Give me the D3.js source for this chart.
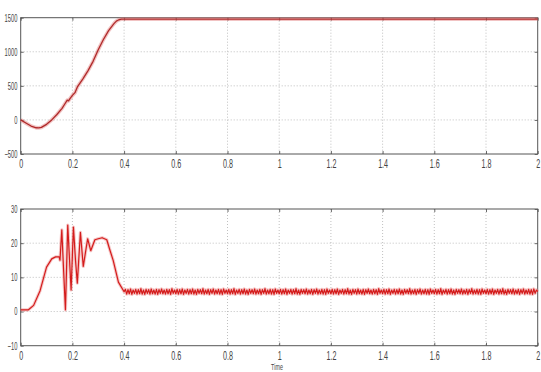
<!DOCTYPE html>
<html><head><meta charset="utf-8">
<script src="https://cdn.jsdelivr.net/npm/d3@7"></script>
<style>
html,body{margin:0;padding:0;background:#fff;}
svg{display:block;}
text{font-family:"Liberation Sans",Arial,sans-serif;fill:#444;}
</style></head>
<body><svg id="c" width="541" height="372"></svg>
<script>
// ---- data ----
const xTicks = [0,0.2,0.4,0.6,0.8,1,1.2,1.4,1.6,1.8,2];
const xTickLabels = ["0","0.2","0.4","0.6","0.8","1","1.2","1.4","1.6","1.8","2"];
const speedTicks = [-500,0,500,1000,1500];
const torqueTicks = [-10,0,10,20,30];

const speedTime  = [0,0.02,0.04,0.06,0.07,0.08,0.10,0.12,0.14,0.16,0.17,0.18,0.185,0.19,0.20,0.21,0.22,0.24,0.26,0.28,0.30,0.32,0.34,0.36,0.37,0.38,0.39,0.40,2.0];
const speedValue = [0,-45,-90,-115,-118,-110,-65,0,80,170,230,290,280,310,360,400,490,600,720,860,1030,1180,1310,1410,1450,1470,1478,1480,1480];

const torqueTime  = [0,0.03,0.05,0.075,0.10,0.12,0.135,0.149,0.152,0.159,0.166,0.173,0.182,0.189,0.195,0.204,0.212,0.219,0.231,0.242,0.259,0.271,0.287,0.30,0.315,0.333,0.345,0.358,0.378,0.40];
const torqueValue = [0.5,0.5,1.8,6.1,13,15.4,16,16,15,23.9,12,0.5,25.3,15,6.3,24.7,15,8.3,23.2,13.2,21.3,17.8,21,21.3,21.6,21,18,14.9,8.6,5.8];
const torqueNoiseStart = 0.405, torqueNoiseStep = 0.005;
const torqueNoise = [
 6.5,5.1,6.4,5.2,6.6,5.0,6.3,5.3,6.5,5.1,
 6.4,5.2,6.7,5.1,6.3,5.0,6.5,5.3,6.4,5.1,
 6.6,5.2,6.3,5.1,6.5,5.0,6.4,5.3,6.6,5.2,
 6.3,5.1,6.5,5.2,6.4,5.0,6.7,5.3,6.3,5.2,
 6.5,5.1,6.4,5.2,6.6,5.0,6.3,5.3,6.5,5.1,
 6.4,5.2,6.6,5.1,6.3,5.0,6.5,5.3,6.4,5.2,
 6.7,5.1,6.3,5.2,6.5,5.0,6.4,5.3,6.6,5.1,
 6.3,5.2,6.5,5.1,6.4,5.0,6.6,5.3,6.3,5.2,
 6.5,5.1,6.4,5.2,6.7,5.0,6.3,5.3,6.5,5.1,
 6.4,5.2,6.6,5.1,6.3,5.0,6.5,5.3,6.4,5.2,
 6.6,5.1,6.3,5.2,6.5,5.0,6.4,5.3,6.7,5.1,
 6.3,5.2,6.5,5.1,6.4,5.0,6.6,5.3,6.3,5.2,
 6.5,5.1,6.4,5.2,6.6,5.0,6.3,5.3,6.5,5.1,
 6.4,5.2,6.7,5.1,6.3,5.0,6.5,5.3,6.4,5.2,
 6.6,5.1,6.3,5.2,6.5,5.0,6.4,5.3,6.6,5.1,
 6.3,5.2,6.5,5.1,6.4,5.0,6.6,5.3,6.3,5.2,
 6.5,5.1,6.4,5.2,6.6,5.0,6.3,5.3,6.5,5.1,
 6.4,5.2,6.7,5.1,6.3,5.0,6.5,5.3,6.4,5.1,
 6.6,5.2,6.3,5.1,6.5,5.0,6.4,5.3,6.6,5.2,
 6.3,5.1,6.5,5.2,6.4,5.0,6.7,5.3,6.3,5.2,
 6.5,5.1,6.4,5.2,6.6,5.0,6.3,5.3,6.5,5.1,
 6.4,5.2,6.6,5.1,6.3,5.0,6.5,5.3,6.4,5.2,
 6.7,5.1,6.3,5.2,6.5,5.0,6.4,5.3,6.6,5.1,
 6.3,5.2,6.5,5.1,6.4,5.0,6.6,5.3,6.3,5.2,
 6.5,5.1,6.4,5.2,6.7,5.0,6.3,5.3,6.5,5.1,
 6.4,5.2,6.6,5.1,6.3,5.0,6.5,5.3,6.4,5.2,
 6.6,5.1,6.3,5.2,6.5,5.0,6.4,5.3,6.7,5.1,
 6.3,5.2,6.5,5.1,6.4,5.0,6.6,5.3,6.3,5.2,
 6.5,5.1,6.4,5.2,6.6,5.0,6.3,5.3,6.5,5.1,
 6.4,5.2,6.7,5.1,6.3,5.0,6.5,5.3,6.4,5.2,
 6.6,5.1,6.3,5.2,6.5,5.0,6.4,5.3,6.6,5.1,
 6.3,5.2,6.5,5.1,6.4,5.0,6.6,5.3,6.3,5.8];
const xLabel = "Time";

// ---- drawing ----
const svg = d3.select("#c");
const left = 20.7, right = 537.7;
const x = d3.scaleLinear().domain([0,2]).range([left,right]);
const SX = 0.55;

function panel(top, bottom, yDomain, yTicks, series){
  const y = d3.scaleLinear().domain(yDomain).range([bottom, top]);
  const g = svg.append("g");
  g.selectAll(".gx").data(xTicks.slice(1,-1)).join("line")
    .attr("x1",d=>x(d)).attr("x2",d=>x(d)).attr("y1",top).attr("y2",bottom)
    .attr("stroke","#b0b0b0").attr("stroke-width",0.8).attr("stroke-dasharray","1,2");
  g.selectAll(".gy").data(yTicks.slice(1,-1)).join("line")
    .attr("y1",d=>y(d)).attr("y2",d=>y(d)).attr("x1",left).attr("x2",right)
    .attr("stroke","#b0b0b0").attr("stroke-width",0.8).attr("stroke-dasharray","1,2");
  const ax = g.append("g").attr("transform",`translate(0,${bottom})`)
    .call(d3.axisBottom(x).tickValues(xTicks).tickFormat((d,i)=>xTickLabels[i]).tickSizeInner(-3).tickSizeOuter(0).tickPadding(5));
  const axT = g.append("g").attr("transform",`translate(0,${top})`)
    .call(d3.axisTop(x).tickValues(xTicks).tickFormat("").tickSizeInner(-3).tickSizeOuter(0));
  const ay = g.append("g").attr("transform",`translate(${left},0)`)
    .call(d3.axisLeft(y).tickValues(yTicks).tickFormat(d3.format("d")).tickSizeInner(-3).tickSizeOuter(0).tickPadding(6));
  const ayR = g.append("g").attr("transform",`translate(${right},0)`)
    .call(d3.axisRight(y).tickValues(yTicks).tickFormat("").tickSizeInner(-3).tickSizeOuter(0));
  [ax,axT,ay,ayR].forEach(a=>{
    a.select(".domain").remove();
    a.selectAll(".tick line").attr("stroke","#444").attr("stroke-width",0.8);
  });
  ax.selectAll("text").attr("font-size",13).attr("fill","#4a4a4a")
    .attr("font-family",'"Liberation Sans",Arial,sans-serif').attr("transform",`scale(${SX},1)`);
  ay.selectAll("text").attr("font-size",10.5).attr("fill","#4a4a4a")
    .attr("font-family",'"Liberation Sans",Arial,sans-serif').attr("transform",`scale(${SX},1)`);
  g.append("rect").attr("x",left).attr("y",top).attr("width",right-left).attr("height",bottom-top)
    .attr("fill","none").attr("stroke","#555").attr("stroke-width",1);
  const line = d3.line().x(d=>x(d[0])).y(d=>y(d[1]));
  series.forEach(s=>{
    g.append("path").datum(s.data).attr("d",line).attr("fill","none")
      .attr("stroke",s.halo).attr("stroke-width",s.haloW).attr("stroke-opacity",0.45).attr("stroke-linejoin","round");
    g.append("path").datum(s.data).attr("d",line).attr("fill","none")
      .attr("stroke",s.color).attr("stroke-width",s.w).attr("stroke-linejoin","round");
  });
  return {g,y};
}

const speedData = speedTime.map((t,i)=>[t,speedValue[i]]);
panel(17.7,154,[-500,1500],speedTicks,[{data:speedData,color:"#b02a2a",w:1.3,halo:"#e07a7a",haloW:3.8}]);

const torqueData = torqueTime.map((t,i)=>[t,torqueValue[i]])
  .concat(torqueNoise.map((v,i)=>[torqueNoiseStart+i*torqueNoiseStep, v]));
panel(209,345.7,[-10,30],torqueTicks,[{data:torqueData,color:"#d41c1c",w:1.2,halo:"#e88080",haloW:3.2}]);

svg.append("text").attr("transform","translate(277,369.5) scale(0.6,1)").attr("font-size",9).attr("fill","#4a4a4a")
  .attr("text-anchor","middle").text(xLabel);
</script></body></html>
